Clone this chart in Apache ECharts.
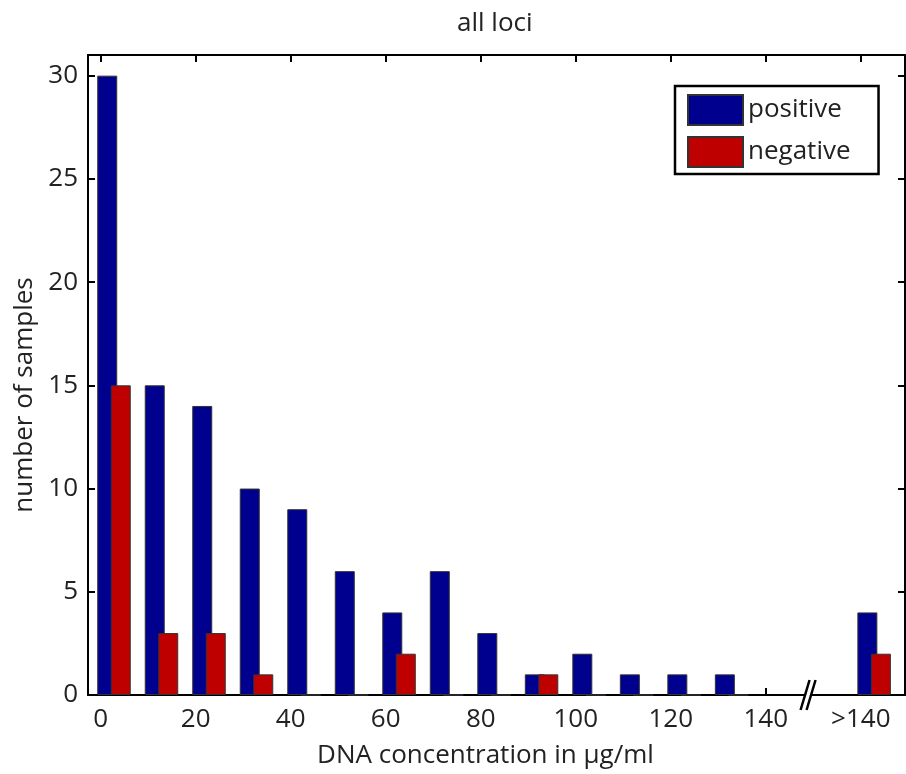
<!DOCTYPE html>
<html>
<head>
<meta charset="utf-8">
<script src="https://cdn.jsdelivr.net/npm/echarts@6/dist/echarts.min.js"></script>
<style>
html,body{margin:0;padding:0;background:#fff;}
#chart{width:906px;height:774px;}
</style>
</head>
<body>
<div id="chart"></div>
<script>
// Data
const binStarts = [0, 10, 20, 30, 40, 50, 60, 70, 80, 90, 100, 110, 120, 130, 160];
const positive  = [30, 15, 14, 10, 9, 6, 4, 6, 3, 1, 2, 1, 1, 1, 4];
const negative  = [15, 3, 3, 1, 0, 0, 2, 0, 0, 1, 0, 0, 0, 0, 2];
const xTickValues = [0, 20, 40, 60, 80, 100, 120, 140, 160];
const xTickLabels = ['0', '20', '40', '60', '80', '100', '120', '140', '>140'];
const yTickValues = [0, 5, 10, 15, 20, 25, 30];
const seriesNames = ['positive', 'negative'];
const title = 'all loci';
const xName = 'DNA concentration in \u00b5g/ml';
const yName = 'number of samples';

const FONT = 'Open Sans';
const FS = 26;
const groupOffset = 2.8;
const xMin = -2.67, xMax = 169.3, yMax = 31;

const chart = echarts.init(document.getElementById('chart'), null, {renderer: 'canvas'});

const axisLineStyle = {color: '#000', width: 2};
const mkData = arr => arr.map((v, i) => [binStarts[i] + groupOffset, v]);

const option = {
  backgroundColor: '#fff',
  animation: false,
  title: {
    text: title, left: 452, top: 6,
    textStyle: {fontFamily: FONT, fontWeight: 'normal', fontSize: FS, color: '#222'}
  },
  legend: {
    data: seriesNames,
    orient: 'vertical',
    left: 675, top: 86,
    itemWidth: 55, itemHeight: 30, itemGap: 10,
    padding: [8, 28, 6, 12],
    borderColor: '#000', borderWidth: 2.5,
    backgroundColor: '#fff',
    icon: 'rect',
    textStyle: {fontFamily: FONT, fontSize: FS, color: '#222'}
  },
  grid: {left: 88, top: 55, width: 817, height: 648, containLabel: false},
  xAxis: [{
    type: 'value', min: xMin, max: xMax, position: 'bottom',
    name: xName, nameLocation: 'middle', nameGap: 48,
    nameTextStyle: {fontFamily: FONT, fontSize: FS, color: '#222', padding: [0, 22, 0, 0]},
    axisLine: {show: true, onZero: false, lineStyle: axisLineStyle},
    axisTick: {show: true, inside: true, length: 7, lineStyle: {color: '#000', width: 2}, customValues: xTickValues},
    axisLabel: {
      show: true, margin: 12, fontFamily: FONT, fontSize: FS, color: '#222',
      customValues: xTickValues,
      formatter: v => { const i = xTickValues.indexOf(v); return i >= 0 ? xTickLabels[i] : ''; }
    },
    splitLine: {show: false}
  }, {
    type: 'value', min: xMin, max: xMax, position: 'top',
    axisLine: {show: true, onZero: false, lineStyle: axisLineStyle},
    axisTick: {show: true, inside: true, length: 7, lineStyle: {color: '#000', width: 2}, customValues: xTickValues},
    axisLabel: {show: false},
    splitLine: {show: false}
  }],
  yAxis: [{
    type: 'value', min: 0, max: yMax, position: 'left',
    name: yName, nameLocation: 'middle', nameGap: 50, nameRotate: 90,
    nameTextStyle: {fontFamily: FONT, fontSize: FS, color: '#222', padding: [0, 40, 0, 0]},
    axisLine: {show: true, onZero: false, lineStyle: axisLineStyle},
    axisTick: {show: true, inside: true, length: 7, lineStyle: {color: '#000', width: 2}, customValues: yTickValues},
    axisLabel: {show: true, margin: 10, fontFamily: FONT, fontSize: FS, color: '#222', customValues: yTickValues},
    splitLine: {show: false}
  }, {
    type: 'value', min: 0, max: yMax, position: 'right',
    axisLine: {show: true, onZero: false, lineStyle: axisLineStyle},
    axisTick: {show: true, inside: true, length: 7, lineStyle: {color: '#000', width: 2}, customValues: yTickValues},
    axisLabel: {show: false},
    splitLine: {show: false}
  }],
  series: [{
    name: seriesNames[0], type: 'bar', xAxisIndex: 0, yAxisIndex: 0,
    data: mkData(positive), barWidth: 20, barGap: '-32.5%',
    itemStyle: {color: '#00008F', borderColor: '#333', borderWidth: 1}
  }, {
    name: seriesNames[1], type: 'bar', xAxisIndex: 0, yAxisIndex: 0,
    data: mkData(negative), barWidth: 20, barGap: '-32.5%',
    itemStyle: {color: '#BF0000', borderColor: '#333', borderWidth: 1}
  }]
};
chart.setOption(option);

// axis break mark "//" placed on the x axis between 140 and >140
const bx = chart.convertToPixel({xAxisIndex: 0}, 149);
const by = chart.convertToPixel({yAxisIndex: 0}, 0);
chart.setOption({
  graphic: [
    {type: 'polygon', z: 100, shape: {points: [[bx - 7, by + 15], [bx + 2, by - 15], [bx + 6, by - 15], [bx - 3, by + 15]]}, style: {fill: '#fff'}},
    {type: 'line', z: 101, shape: {x1: bx - 8, y1: by + 15, x2: bx + 1, y2: by - 15}, style: {stroke: '#000', lineWidth: 2.5}},
    {type: 'line', z: 101, shape: {x1: bx - 2, y1: by + 15, x2: bx + 7, y2: by - 15}, style: {stroke: '#000', lineWidth: 2.5}}
  ]
});
</script>
</body>
</html>
